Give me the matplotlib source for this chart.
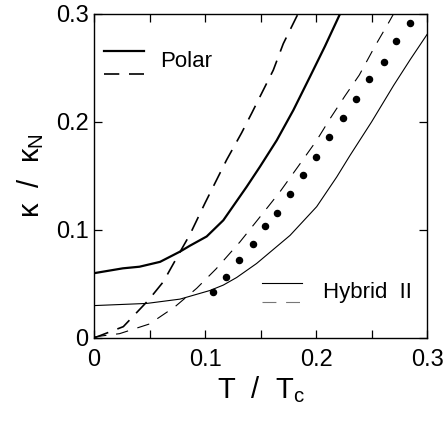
import numpy as np
import matplotlib
matplotlib.use("Agg")
import matplotlib.pyplot as plt
from matplotlib.lines import Line2D

plt.rcParams['font.family'] = ['Liberation Sans', 'DejaVu Sans']
plt.rcParams['mathtext.fontset'] = 'custom'
plt.rcParams['mathtext.rm'] = 'Liberation Sans'
plt.rcParams['lines.scale_dashes'] = False

# polar state, solid / dashed
polar_sol_t = [0.0, 0.026, 0.041, 0.0595, 0.0775, 0.0865, 0.1015, 0.1165, 0.1375, 0.1495,
               0.1646, 0.1796, 0.1946, 0.208, 0.2216]
polar_sol_k = [0.060, 0.0645, 0.066, 0.0705, 0.080, 0.0855, 0.094, 0.109, 0.140, 0.1586,
               0.183, 0.211, 0.242, 0.270, 0.300]
polar_dash_t = [0.0, 0.0264, 0.049, 0.0624, 0.0759, 0.0865, 0.0999, 0.1195, 0.133, 0.142,
                0.151, 0.1615, 0.1705, 0.1825, 0.1838]
polar_dash_k = [0.0, 0.0105, 0.035, 0.052, 0.0768, 0.096, 0.1247, 0.165, 0.190, 0.208,
                0.2265, 0.248, 0.2725, 0.2975, 0.300]

# hybrid II state, solid / dashed
hyb_sol_t = [0.0, 0.0475, 0.0775, 0.1045, 0.1165, 0.1285, 0.1465, 0.1766, 0.2006, 0.2186,
             0.2306, 0.25, 0.27, 0.285, 0.30]
hyb_sol_k = [0.030, 0.032, 0.036, 0.044, 0.049, 0.056, 0.069, 0.095, 0.1216, 0.149,
             0.169, 0.200, 0.234, 0.258, 0.281]
hyb_dash_t = [0.0, 0.023, 0.05, 0.073, 0.0925, 0.110, 0.1315, 0.151, 0.1676, 0.184,
              0.2006, 0.2126, 0.226, 0.239, 0.253, 0.266, 0.2698]
hyb_dash_k = [0.001, 0.004, 0.013, 0.029, 0.046, 0.064, 0.089, 0.114, 0.1355, 0.159,
              0.183, 0.203, 0.224, 0.2435, 0.270, 0.293, 0.300]

# experimental points
exp_t = [0.107, 0.119, 0.131, 0.143, 0.154, 0.165, 0.177, 0.188, 0.200, 0.212, 0.224, 0.236,
         0.248, 0.261, 0.272, 0.285]
exp_k = [0.0425, 0.0563, 0.072, 0.087, 0.104, 0.116, 0.133, 0.151, 0.168, 0.186, 0.204, 0.221,
         0.240, 0.256, 0.275, 0.292]

ticks = [0, 0.1, 0.2, 0.3]
tick_labels = ['0', '0.1', '0.2', '0.3']

fig = plt.figure(figsize=(4.47, 4.28), dpi=100)
ax = fig.add_axes([0.2103, 0.2103, 0.745, 0.757])

polar_dash = (0, (11, 7))
hyb_dash = (0, (9, 7))
ax.plot(polar_sol_t, polar_sol_k, color='black', lw=1.6)
ax.plot(polar_dash_t, polar_dash_k, color='black', lw=1.2, linestyle=polar_dash)
ax.plot(hyb_sol_t, hyb_sol_k, color='black', lw=0.8)
ax.plot(hyb_dash_t, hyb_dash_k, color='black', lw=0.8, linestyle=hyb_dash)
ax.plot(exp_t, exp_k, 'o', color='black', ms=4.4, clip_on=False)

ax.set_xlim(0, 0.3)
ax.set_ylim(0, 0.3)
ax.set_xticks(ticks)
ax.set_xticklabels(tick_labels)
ax.set_yticks(ticks)
ax.set_yticklabels(tick_labels)
ax.set_xticks([0.05, 0.15, 0.25], minor=True)
ax.tick_params(which='both', direction='in', top=True, right=True, labelsize=17,
               width=0.9, length=5.5)
ax.tick_params(axis='x', pad=8)
ax.tick_params(axis='y', pad=4)
for sp in ax.spines.values():
    sp.set_linewidth(1.0)

ax.set_xlabel(r'T  /  T$_\mathregular{c}$', fontsize=21, labelpad=2)
ax.set_ylabel(r'κ  /  κ$_\mathregular{N}$', fontsize=21, labelpad=7)

# legend blocks
tr = ax.transAxes
ax.add_line(Line2D([0.03, 0.15], [0.887, 0.887], color='black', lw=1.6, transform=tr))
ax.add_line(Line2D([0.03, 0.15], [0.816, 0.816], color='black', lw=1.2,
                   linestyle=(0, (11, 7)), transform=tr))
ax.text(0.198, 0.853, 'Polar', transform=tr, fontsize=16, va='center', ha='left')
ax.add_line(Line2D([0.505, 0.625], [0.170, 0.170], color='black', lw=0.8, transform=tr))
ax.add_line(Line2D([0.505, 0.625], [0.111, 0.111], color='#777777', lw=0.8,
                   linestyle=(0, (10, 7)), transform=tr))
ax.text(0.688, 0.140, 'Hybrid  II', transform=tr, fontsize=16, va='center', ha='left')

fig.savefig('out.png', dpi=100)
